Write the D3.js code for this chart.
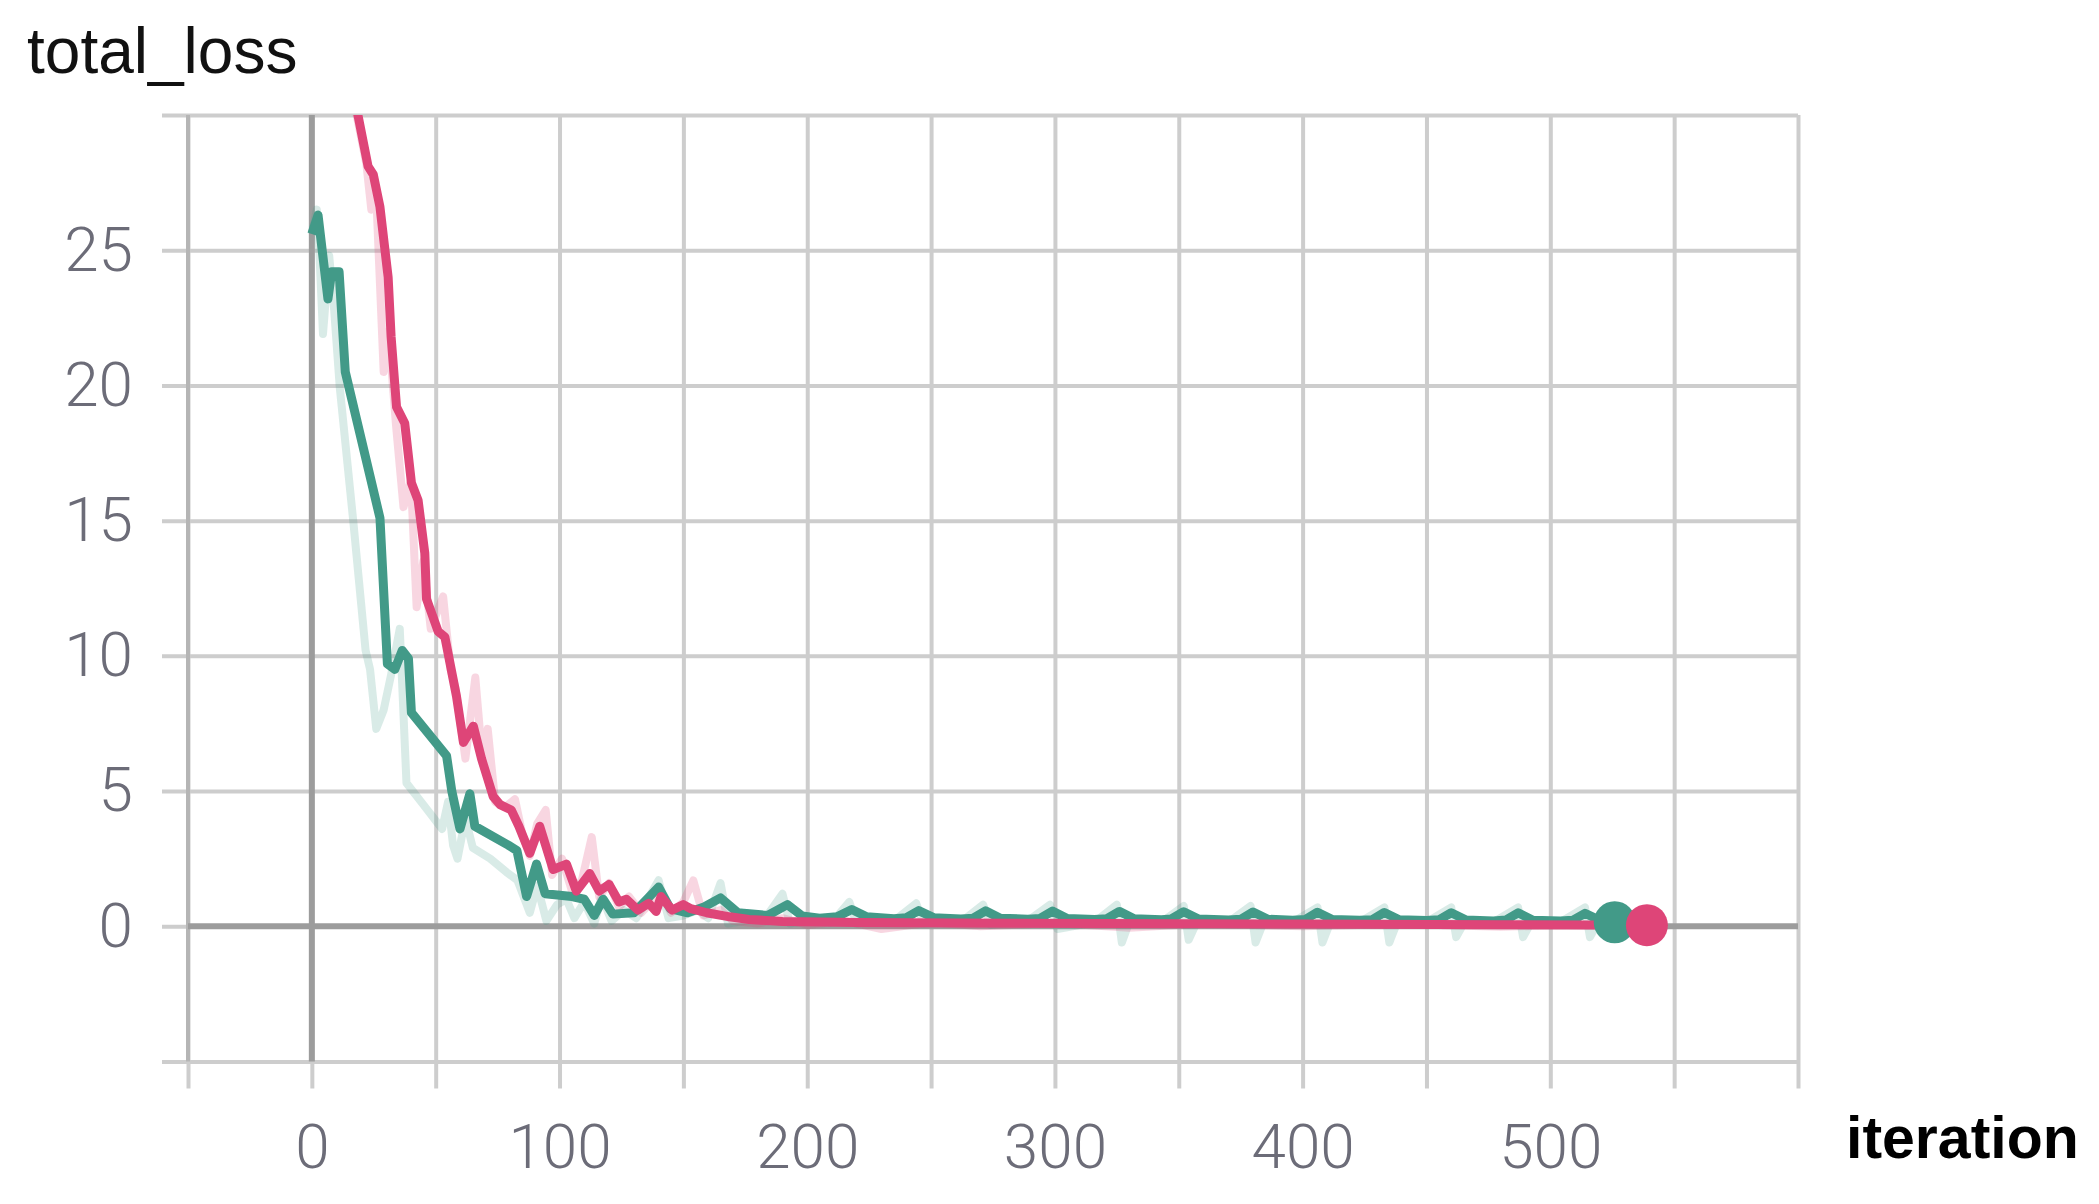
<!DOCTYPE html>
<html>
<head>
<meta charset="utf-8">
<script src="https://cdn.jsdelivr.net/npm/d3@7"></script>
<style>
  html, body { margin: 0; padding: 0; background: #ffffff; }
  svg { display: block; }
</style>
</head>
<body>
<svg id="chart" width="2099" height="1204"></svg>
<script>
// ---------- data ----------
const chartTitle = "total_loss";
const xAxisTitle = "iteration";

const xGridTicks = [-50, 0, 50, 100, 150, 200, 250, 300, 350, 400, 450, 500, 550, 600];
const xLabelTicks = [0, 100, 200, 300, 400, 500];
const yGridTicks = [-5, 0, 5, 10, 15, 20, 25, 30];
const yLabelTicks = [0, 5, 10, 15, 20, 25];

// [iteration, value]
const greenSmooth = [
  [0, 25.6], [2.5, 26.3], [6.5, 23.2], [8, 24.2], [11, 24.2], [13.5, 20.5], [27.5, 15.1],
  [30.5, 9.7], [33.5, 9.5], [36.5, 10.2], [39, 9.9], [40.2, 7.9], [54.4, 6.3], [56.5, 5.0],
  [59.8, 3.6], [63.8, 4.9], [65.8, 3.7], [79.3, 3.0], [82.8, 2.8], [86.7, 1.1], [90.7, 2.3],
  [94.2, 1.2], [105, 1.1], [110, 1.0], [114, 0.4], [117.6, 1.0], [121.5, 0.45], [130, 0.5],
  [140, 1.45], [144.7, 0.65], [151.7, 0.5], [158, 0.7], [165, 1.05], [172, 0.5], [184, 0.4],
  [192, 0.8], [198, 0.38], [205, 0.3], [212, 0.35], [218, 0.62], [224, 0.35], [235, 0.28],
  [240, 0.32], [245, 0.58], [251, 0.32], [262, 0.27], [267, 0.3], [272, 0.57], [278, 0.3],
  [289, 0.26], [294, 0.29], [299, 0.56], [305, 0.29], [316, 0.25], [321, 0.28], [326, 0.55],
  [332, 0.28], [343, 0.24], [347, 0.27], [352, 0.54], [358, 0.27], [370, 0.23], [375, 0.26],
  [380, 0.53], [386, 0.26], [396, 0.22], [401, 0.25], [406, 0.52], [412, 0.25], [423, 0.22],
  [428, 0.24], [433, 0.51], [439, 0.24], [450, 0.21], [455, 0.24], [460, 0.5], [466, 0.23],
  [477, 0.2], [482, 0.23], [487, 0.5], [493, 0.22], [504, 0.2], [509, 0.22], [514, 0.48],
  [520, 0.22], [526, 0.15]
];

const greenRaw = [
  [0, 25.6], [2, 26.5], [3, 25.0], [4.5, 21.9], [7, 24.8], [9, 22.8], [11.3, 19.9], [16.7, 15.0],
  [21.7, 10.2], [23.5, 9.5], [26, 7.3], [29, 8.0], [32, 9.3], [35.5, 11.0], [38.2, 5.3], [45, 4.5],
  [52.6, 3.6], [55, 4.6], [57, 3.0], [58.8, 2.5], [62, 4.0], [65, 2.9], [72, 2.5], [78.6, 2.0],
  [83, 1.7], [88, 0.5], [91, 1.5], [94.7, 0.2], [99, 0.8], [102.8, 1.0], [106, 0.3], [110, 0.9],
  [114, 0.1], [117, 1.1], [121, 0.2], [126, 0.6], [131, 0.3], [135, 0.9], [140, 1.7], [144, 0.3],
  [150, 0.4], [156, 0.6], [160, 0.3], [165, 1.6], [168, 0.1], [175, 0.2], [183, 0.3], [190, 1.2],
  [193, 0.1], [200, 0.2], [210, 0.15], [217, 0.9], [220, 0.1], [235, 0.2], [244, 0.85], [247, 0.1],
  [262, 0.15], [271, 0.8], [274, 0.05], [289, 0.2], [298, 0.8], [301, -0.1], [316, 0.15],
  [325, 0.8], [327, -0.6], [330, 0.15], [343, 0.15], [352, 0.75], [354, -0.5], [357, 0.1],
  [370, 0.15], [379, 0.75], [381, -0.6], [384, 0.1], [396, 0.15], [406, 0.7], [408, -0.6],
  [411, 0.1], [423, 0.15], [433, 0.7], [435, -0.6], [438, 0.1], [450, 0.15], [460, 0.7],
  [462, -0.4], [465, 0.1], [477, 0.15], [487, 0.7], [489, -0.4], [492, 0.1], [504, 0.15],
  [514, 0.7], [516, -0.4], [519, 0.1], [526, 0.1]
];

const pinkSmooth = [
  [0, 42], [8, 37], [14, 33], [18.6, 30], [22.7, 28.1], [24.8, 27.8], [27.5, 26.6], [30.8, 24.0],
  [32, 21.8], [34.2, 19.2], [37.5, 18.6], [40.2, 16.4], [42.9, 15.75], [45.6, 13.8], [46.3, 12.1],
  [51, 10.9], [53.7, 10.7], [58.4, 8.5], [61.2, 6.8], [65.2, 7.4], [68.5, 6.2], [73.2, 4.8],
  [76, 4.5], [80.5, 4.3], [83.6, 3.7], [88, 2.7], [92, 3.7], [97.4, 2.1], [102.8, 2.3],
  [106.8, 1.3], [112.2, 1.95], [116, 1.3], [120, 1.55], [124, 0.9], [127, 1.0], [131.6, 0.6],
  [136, 0.85], [139, 0.55], [141, 1.1], [145.5, 0.6], [150, 0.8], [153, 0.65], [159.4, 0.5],
  [168.7, 0.35], [176.5, 0.25], [190, 0.18], [220, 0.14], [260, 0.12], [320, 0.1], [400, 0.08],
  [480, 0.06], [539, 0.04]
];

const pinkRaw = [
  [0, 40], [10, 35], [17, 30.5], [22, 28.2], [24, 26.5], [26, 27], [29, 20.5], [31, 22],
  [34, 18.5], [37, 15.5], [40, 16.5], [42.3, 11.8], [45, 13.5], [48, 11], [53, 12.2], [56, 9.5],
  [58, 8.8], [62, 6.2], [66, 9.2], [69, 6.0], [71, 7.3], [74, 4.6], [78, 4.4], [82, 4.7],
  [85, 3.4], [88, 2.6], [91, 3.8], [94.4, 4.3], [97, 1.9], [101, 2.5], [105, 1.3], [109, 1.7],
  [113, 3.3], [116, 1.1], [120, 1.6], [124, 0.7], [128, 1.1], [133, 0.5], [137, 0.9], [141, 1.2],
  [145, 0.5], [150, 0.9], [154, 1.7], [158, 0.4], [165, 0.6], [170, 0.2], [180, 0.1], [190, 0.3],
  [200, 0.05], [215, 0.2], [230, -0.1], [250, 0.15], [270, 0.0], [300, 0.12], [330, -0.05],
  [360, 0.1], [400, 0.0], [440, 0.08], [480, -0.02], [510, 0.06], [539, 0.04]
];

// ---------- layout ----------
const GREEN = "#429a88";
const PINK = "#de4578";

const svg = d3.select("#chart");
const plotLeft = 188, plotRight = 1798, plotTop = 115, plotBottom = 1061.5;

const x = d3.scaleLinear().domain([-50, 600]).range([plotLeft, plotRight]);
const y = d3.scaleLinear().domain([-5, 30]).range([plotBottom, plotTop]);

// title
svg.append("text")
  .attr("x", 27).attr("y", 73)
  .attr("font-family", "'Liberation Sans', Arial, sans-serif")
  .attr("font-size", 64)
  .attr("fill", "#111")
  .text(chartTitle);

// vertical gridlines (with stubs below plot)
const gx = svg.append("g")
  .attr("transform", `translate(0,${plotBottom + 27})`)
  .call(d3.axisTop(x).tickValues(xGridTicks).tickSize(plotBottom + 27 - plotTop).tickFormat(""));
gx.select(".domain").remove();
gx.selectAll(".tick line").attr("stroke", "#cdcdcd").attr("stroke-width", 4);

// horizontal gridlines (with stubs at left)
const gy = svg.append("g")
  .attr("transform", `translate(${plotRight},0)`)
  .call(d3.axisLeft(y).tickValues(yGridTicks).tickSize(plotRight - (plotLeft - 26)).tickFormat(""));
gy.select(".domain").remove();
gy.selectAll(".tick line").attr("stroke", "#cdcdcd").attr("stroke-width", 4);

// leftmost vertical line a bit darker
svg.append("line")
  .attr("x1", x(-50)).attr("x2", x(-50))
  .attr("y1", plotTop).attr("y2", plotBottom)
  .attr("stroke", "#b5b5b5").attr("stroke-width", 4);

// zero axes
svg.append("line")
  .attr("x1", x(0)).attr("x2", x(0))
  .attr("y1", plotTop).attr("y2", plotBottom)
  .attr("stroke", "#9c9c9c").attr("stroke-width", 6);
svg.append("line")
  .attr("x1", plotLeft).attr("x2", plotRight)
  .attr("y1", y(0)).attr("y2", y(0))
  .attr("stroke", "#9c9c9c").attr("stroke-width", 6);

// y tick labels
const yl = svg.append("g")
  .attr("transform", `translate(133,0)`)
  .call(d3.axisLeft(y).tickValues(yLabelTicks).tickSize(0).tickPadding(0));
yl.select(".domain").remove();
yl.selectAll("text")
  .attr("font-family", "Roboto, 'Noto Sans', sans-serif")
  .attr("font-weight", 300)
  .attr("font-size", 62)
  .attr("fill", "#6c6c78");

// x tick labels
const xl = svg.append("g")
  .attr("transform", `translate(0,${plotBottom})`)
  .call(d3.axisBottom(x).tickValues(xLabelTicks).tickSize(0).tickPadding(62).tickFormat(d3.format("d")));
xl.select(".domain").remove();
xl.selectAll("text")
  .attr("font-family", "Roboto, 'Noto Sans', sans-serif")
  .attr("font-weight", 300)
  .attr("font-size", 62)
  .attr("fill", "#6c6c78");

// x axis title
svg.append("text")
  .attr("x", 1846).attr("y", 1158)
  .attr("font-family", "'Liberation Sans', Arial, sans-serif")
  .attr("font-weight", "bold")
  .attr("font-size", 59)
  .attr("fill", "#000")
  .text(xAxisTitle);

// clip
svg.append("clipPath").attr("id", "plotclip")
  .append("rect")
  .attr("x", plotLeft).attr("y", plotTop)
  .attr("width", plotRight - plotLeft).attr("height", plotBottom - plotTop);

const line = d3.line().x(d => x(d[0])).y(d => y(d[1]));
const plot = svg.append("g").attr("clip-path", "url(#plotclip)");

plot.append("path").datum(greenRaw)
  .attr("d", line).attr("fill", "none")
  .attr("stroke", GREEN).attr("stroke-opacity", 0.2)
  .attr("stroke-width", 8).attr("stroke-linejoin", "round");
plot.append("path").datum(pinkRaw)
  .attr("d", line).attr("fill", "none")
  .attr("stroke", PINK).attr("stroke-opacity", 0.22)
  .attr("stroke-width", 8).attr("stroke-linejoin", "round");
plot.append("path").datum(greenSmooth)
  .attr("d", line).attr("fill", "none")
  .attr("stroke", GREEN).attr("stroke-width", 9).attr("stroke-linejoin", "round");
plot.append("path").datum(pinkSmooth)
  .attr("d", line).attr("fill", "none")
  .attr("stroke", PINK).attr("stroke-width", 9).attr("stroke-linejoin", "round");

// end markers
const ends = [
  { p: greenSmooth[greenSmooth.length - 1], c: GREEN },
  { p: pinkSmooth[pinkSmooth.length - 1], c: PINK }
];
svg.selectAll("circle.end").data(ends).enter().append("circle")
  .attr("class", "end")
  .attr("cx", d => x(d.p[0])).attr("cy", d => y(d.p[1]))
  .attr("r", 21).attr("fill", d => d.c);
</script>
</body>
</html>
